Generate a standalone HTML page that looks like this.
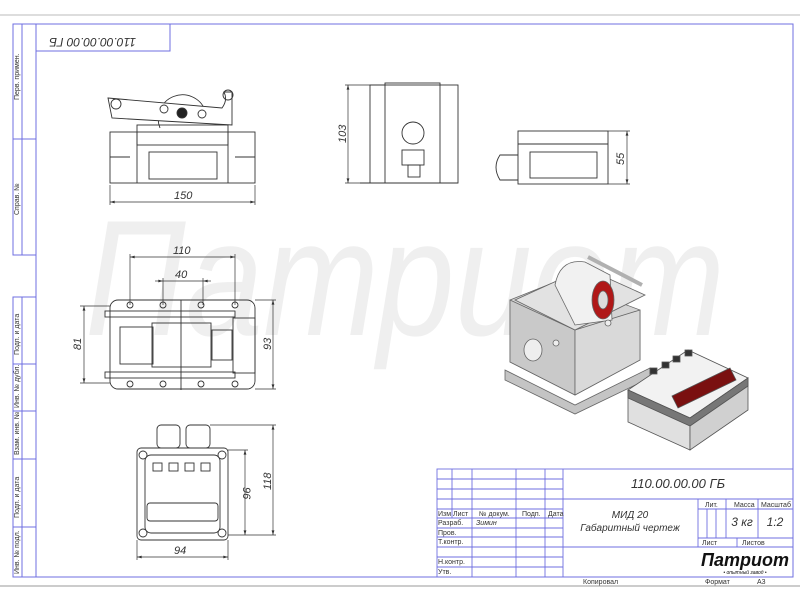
<!DOCTYPE html>
<html><head><meta charset="utf-8"><style>
html,body{margin:0;padding:0;background:#fff}
svg{display:block}
text{font-family:"Liberation Sans","DejaVu Sans",sans-serif}
</style></head><body>
<svg width="800" height="600" viewBox="0 0 800 600" xmlns="http://www.w3.org/2000/svg">
<defs>
<marker id="a" viewBox="0 0 10 6" refX="10" refY="3" markerWidth="8" markerHeight="4" orient="auto-start-reverse"><path d="M0 0 L10 3 L0 6 Z" fill="#333"/></marker>
</defs>
<rect width="800" height="600" fill="#fff"/>
<!-- watermark -->
<text x="85" y="335" font-size="165" font-style="italic" fill="#efefef" textLength="640" lengthAdjust="spacingAndGlyphs">Патриот</text>
<line x1="0" y1="15" x2="800" y2="15" stroke="#bbb"/>
<line x1="0" y1="586" x2="800" y2="586" stroke="#999"/>
<!-- frame -->
<g stroke="#6f6fe0" fill="none" stroke-width="1">
<rect x="36" y="24" width="757" height="553"/>
<rect x="13" y="24" width="23" height="231"/>
<line x1="22" y1="24" x2="22" y2="255"/><line x1="13" y1="139" x2="36" y2="139"/>
<rect x="13" y="297" width="23" height="280"/>
<line x1="22" y1="297" x2="22" y2="577"/>
<line x1="13" y1="364" x2="36" y2="364"/><line x1="13" y1="411" x2="36" y2="411"/>
<line x1="13" y1="459" x2="36" y2="459"/><line x1="13" y1="527" x2="36" y2="527"/>
<rect x="36" y="24" width="134" height="27"/>
</g>
<g font-size="7" fill="#333" font-family="Liberation Serif">
<text transform="translate(19,100) rotate(-90)">Перв. примен.</text>
<text transform="translate(19,215) rotate(-90)">Справ. №</text>
<text transform="translate(19,355) rotate(-90)">Подп. и дата</text>
<text transform="translate(19,408) rotate(-90)">Инв. № дубл.</text>
<text transform="translate(19,455) rotate(-90)">Взам. инв. №</text>
<text transform="translate(19,518) rotate(-90)">Подп. и дата</text>
<text transform="translate(19,574) rotate(-90)">Инв. № подл.</text>
</g>
<text transform="translate(136,38) rotate(180)" font-size="12" font-style="italic" fill="#333">110.00.00.00 ГБ</text>

<g stroke="#333" fill="none" stroke-width="0.9">
<!-- front view -->
<rect x="110" y="132" width="145" height="51"/>
<line x1="137" y1="132" x2="137" y2="183"/><line x1="228" y1="132" x2="228" y2="183"/>
<rect x="149" y="152" width="68" height="27"/>
<line x1="110" y1="157" x2="130" y2="157"/><line x1="235" y1="157" x2="255" y2="157"/>
<rect x="137" y="125" width="91" height="20"/>
<path d="M160 128 A23 23 0 0 1 205 110"/>
<path d="M108 98 L222 108 Q228 100 224 92 L232 92 L232 125 L112 118 Z" fill="#fff"/>
<circle cx="116" cy="104" r="5"/><circle cx="228" cy="95" r="5"/>
<circle cx="164" cy="109" r="4"/><circle cx="202" cy="114" r="4"/>
<circle cx="182" cy="113" r="5" fill="#222"/>
<!-- side view -->
<rect x="370" y="85" width="88" height="98"/>
<rect x="385" y="83" width="55" height="100"/>
<circle cx="413" cy="133" r="11"/>
<rect x="402" y="150" width="22" height="15"/><rect x="408" y="165" width="12" height="12"/>
<line x1="360" y1="183" x2="458" y2="183"/>
<!-- right view -->
<rect x="518" y="131" width="90" height="53"/>
<line x1="518" y1="144" x2="608" y2="144"/>
<rect x="530" y="152" width="67" height="26"/>
<path d="M518 155 L500 155 Q492 167 500 180 L518 180"/>
<!-- plan view -->
<rect x="110" y="300" width="145" height="89" rx="8"/>
<rect x="105" y="311" width="130" height="6"/><rect x="105" y="372" width="130" height="6"/>
<rect x="152" y="323" width="59" height="44"/>
<rect x="120" y="327" width="33" height="37"/><rect x="212" y="330" width="20" height="30"/>
<rect x="233" y="318" width="22" height="55"/>
<circle cx="130" cy="305" r="3"/><circle cx="163" cy="305" r="3"/><circle cx="201" cy="305" r="3"/><circle cx="235" cy="305" r="3"/>
<circle cx="130" cy="384" r="3"/><circle cx="163" cy="384" r="3"/><circle cx="201" cy="384" r="3"/><circle cx="235" cy="384" r="3"/>
<line x1="181" y1="300" x2="181" y2="390"/>
<!-- meter view -->
<rect x="137" y="448" width="91" height="92" rx="4"/>
<rect x="145" y="455" width="75" height="78" rx="6"/>
<rect x="157" y="425" width="23" height="23" rx="4"/><rect x="186" y="425" width="24" height="23" rx="4"/>
<rect x="147" y="503" width="71" height="18" rx="3"/>
<rect x="153" y="463" width="9" height="8"/><rect x="169" y="463" width="9" height="8"/><rect x="185" y="463" width="9" height="8"/><rect x="201" y="463" width="9" height="8"/>
<circle cx="143" cy="455" r="4"/><circle cx="222" cy="455" r="4"/><circle cx="143" cy="533" r="4"/><circle cx="222" cy="533" r="4"/>
</g>
<g stroke="#333" stroke-width="0.7" fill="none">
<!-- dims -->
<line x1="110" y1="202" x2="255" y2="202" marker-start="url(#a)" marker-end="url(#a)"/><line x1="110" y1="185" x2="110" y2="205"/><line x1="255" y1="185" x2="255" y2="205"/>
<line x1="348" y1="85" x2="348" y2="183" marker-start="url(#a)" marker-end="url(#a)"/><line x1="345" y1="85" x2="385" y2="85"/><line x1="345" y1="183" x2="370" y2="183"/>
<line x1="627" y1="131" x2="627" y2="184" marker-start="url(#a)" marker-end="url(#a)"/><line x1="608" y1="131" x2="630" y2="131"/><line x1="608" y1="184" x2="630" y2="184"/>
<line x1="130" y1="257" x2="235" y2="257" marker-start="url(#a)" marker-end="url(#a)"/><line x1="130" y1="254" x2="130" y2="305"/><line x1="235" y1="254" x2="235" y2="305"/>
<line x1="155" y1="281" x2="163" y2="281" marker-end="url(#a)"/><line x1="203" y1="281" x2="211" y2="281" marker-start="url(#a)"/><line x1="163" y1="281" x2="203" y2="281"/><line x1="163" y1="278" x2="163" y2="305"/><line x1="203" y1="278" x2="203" y2="305"/>
<line x1="84" y1="306" x2="84" y2="383" marker-start="url(#a)" marker-end="url(#a)"/><line x1="80" y1="306" x2="110" y2="306"/><line x1="80" y1="383" x2="110" y2="383"/>
<line x1="273" y1="300" x2="273" y2="389" marker-start="url(#a)" marker-end="url(#a)"/><line x1="255" y1="300" x2="276" y2="300"/><line x1="255" y1="389" x2="276" y2="389"/>
<line x1="137" y1="557" x2="228" y2="557" marker-start="url(#a)" marker-end="url(#a)"/><line x1="137" y1="540" x2="137" y2="560"/><line x1="228" y1="540" x2="228" y2="560"/>
<line x1="245" y1="450" x2="245" y2="535" marker-start="url(#a)" marker-end="url(#a)"/><line x1="228" y1="450" x2="248" y2="450"/>
<line x1="273" y1="425" x2="273" y2="535" marker-start="url(#a)" marker-end="url(#a)"/><line x1="210" y1="425" x2="276" y2="425"/><line x1="228" y1="535" x2="276" y2="535"/>
</g>
<g font-size="11" font-style="italic" fill="#333">
<text x="174" y="199">150</text>
<text transform="translate(346,143) rotate(-90)">103</text>
<text transform="translate(624,165) rotate(-90)">55</text>
<text x="173" y="254">110</text>
<text x="175" y="278">40</text>
<text transform="translate(81,350) rotate(-90)">81</text>
<text transform="translate(271,350) rotate(-90)">93</text>
<text x="174" y="554">94</text>
<text transform="translate(243,487) rotate(90)">96</text>
<text transform="translate(271,490) rotate(-90)">118</text>
</g>

<!-- 3D iso roller unit -->
<g stroke="#666" stroke-width="0.8">
<polygon points="505,370 575,405 650,368 650,378 575,414 505,380" fill="#c4c4c4"/>
<polygon points="510,300 560,280 640,310 640,360 575,395 510,362" fill="#d4d4d4"/>
<polygon points="510,300 575,330 575,395 510,362" fill="#c9c9c9"/>
<polygon points="575,330 640,310 640,360 575,395" fill="#d9d9d9"/>
<polygon points="515,300 585,268 645,295 575,330" fill="#e2e2e2"/>
<path d="M555 285 Q560 258 585 262 L610 275 L612 320 L575 325 Z" fill="#f1f1f1"/>
<ellipse cx="603" cy="300" rx="11" ry="19" fill="#b01818"/>
<ellipse cx="603" cy="300" rx="5" ry="9" fill="#ddd"/>
<line x1="588" y1="257" x2="642" y2="285" stroke-width="4" stroke="#b0b0b0"/>
<ellipse cx="533" cy="350" rx="9" ry="11" fill="#eee"/>
<circle cx="608" cy="323" r="3" fill="#eee"/><circle cx="556" cy="343" r="3" fill="#eee"/>
</g>
<!-- meter -->
<g stroke="#555" stroke-width="0.8">
<polygon points="628,390 688,350 748,378 690,418" fill="#f2f2f2"/>
<polygon points="628,390 690,418 690,450 628,422" fill="#e0e0e0"/>
<polygon points="690,418 748,378 748,410 690,450" fill="#d0d0d0"/>
<polygon points="628,390 690,418 748,378 748,386 690,426 628,398" fill="#777"/>
<polygon points="672,396 730,368 736,380 678,408" fill="#7a1010"/>
<rect x="650" y="368" width="7" height="6" fill="#333"/><rect x="662" y="362" width="7" height="6" fill="#333"/>
<rect x="673" y="356" width="7" height="6" fill="#333"/><rect x="685" y="350" width="7" height="6" fill="#333"/>
</g>

<!-- title block -->
<g stroke="#6f6fe0" fill="none" stroke-width="0.9">
<rect x="437" y="469" width="356" height="108"/>
<line x1="437" y1="479" x2="563" y2="479"/><line x1="437" y1="489" x2="563" y2="489"/>
<line x1="437" y1="499" x2="793" y2="499"/><line x1="437" y1="509" x2="563" y2="509"/>
<line x1="437" y1="518" x2="563" y2="518"/><line x1="437" y1="528" x2="563" y2="528"/>
<line x1="437" y1="537" x2="563" y2="537"/><line x1="437" y1="547" x2="793" y2="547"/>
<line x1="437" y1="557" x2="563" y2="557"/><line x1="437" y1="567" x2="563" y2="567"/>
<line x1="452" y1="469" x2="452" y2="518"/><line x1="472" y1="469" x2="472" y2="577"/>
<line x1="516" y1="469" x2="516" y2="577"/><line x1="545" y1="469" x2="545" y2="577"/>
<line x1="563" y1="469" x2="563" y2="577"/>
<line x1="698" y1="499" x2="698" y2="547"/><line x1="726" y1="499" x2="726" y2="538"/>
<line x1="758" y1="499" x2="758" y2="538"/><line x1="698" y1="509" x2="793" y2="509"/>
<line x1="698" y1="538" x2="793" y2="538"/><line x1="737" y1="538" x2="737" y2="547"/>
<line x1="707" y1="509" x2="707" y2="538"/><line x1="716" y1="509" x2="716" y2="538"/>
</g>
<g font-family="Liberation Serif" font-size="7" fill="#333">
<text x="438" y="516">Изм</text><text x="453" y="516">Лист</text><text x="479" y="516">№ докум.</text>
<text x="522" y="516">Подп.</text><text x="548" y="516">Дата</text>
<text x="438" y="525">Разраб.</text><text x="438" y="535">Пров.</text><text x="438" y="544">Т.контр.</text>
<text x="438" y="564">Н.контр.</text><text x="438" y="574">Утв.</text>
<text x="705" y="507">Лит.</text><text x="734" y="507">Масса</text><text x="761" y="507">Масштаб</text>
<text x="702" y="545">Лист</text><text x="742" y="545">Листов</text>
<text x="583" y="584">Копировал</text><text x="705" y="584">Формат</text><text x="757" y="584">А3</text>
</g>
<text x="476" y="525" font-size="7" font-style="italic" fill="#333">Зимин</text>
<g font-style="italic" fill="#333">
<text x="678" y="488" font-size="13" text-anchor="middle">110.00.00.00 ГБ</text>
<text x="630" y="518" font-size="10" text-anchor="middle">МИД 20</text>
<text x="630" y="531" font-size="10" text-anchor="middle">Габаритный чертеж</text>
<text x="742" y="526" font-size="12" text-anchor="middle">3 кг</text>
<text x="775" y="526" font-size="12" text-anchor="middle">1:2</text>
<text x="745" y="566" font-size="18" font-weight="bold" text-anchor="middle" fill="#111">Патриот</text>
<text x="745" y="574" font-size="5" text-anchor="middle" fill="#111">• опытный завод •</text>
</g>
</svg>
</body></html>
